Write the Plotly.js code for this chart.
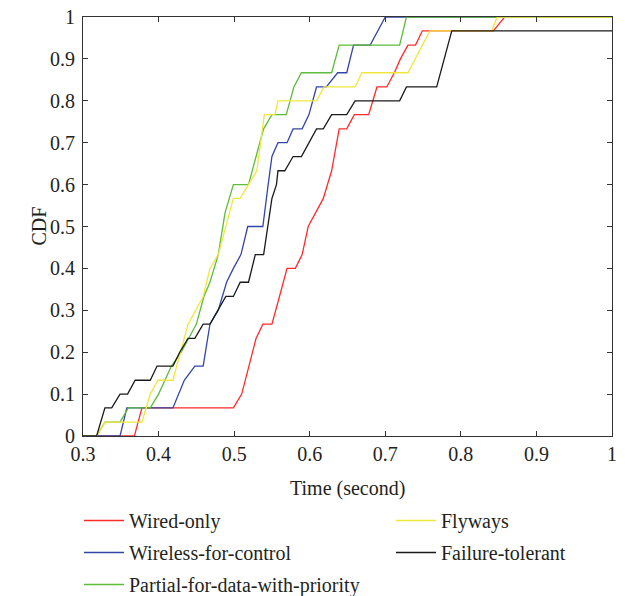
<!DOCTYPE html>
<html>
<head>
<meta charset="utf-8">
<script src="https://cdn.plot.ly/plotly-3.0.1.min.js"></script>
<style>html,body{margin:0;padding:0;background:#fff;}#chart{width:625px;height:596px;}</style>
</head>
<body>
<div id="chart"></div>
<script>
// Wired-only
const wiredX = [0.3, 0.368, 0.378, 0.499, 0.510, 0.520, 0.529, 0.538, 0.550, 0.560, 0.570, 0.581, 0.590, 0.598, 0.608, 0.618, 0.629, 0.639, 0.649, 0.659, 0.678, 0.689, 0.702, 0.712, 0.720, 0.730, 0.740, 0.749, 0.843, 0.858, 1.0];
const wiredY = [0, 0, 0.067, 0.067, 0.1, 0.167, 0.233, 0.267, 0.267, 0.333, 0.4, 0.4, 0.433, 0.5, 0.533, 0.567, 0.633, 0.733, 0.733, 0.767, 0.767, 0.833, 0.833, 0.867, 0.9, 0.933, 0.933, 0.967, 0.967, 1, 1];
// Wireless-for-control
const wirelessX = [0.3, 0.349, 0.358, 0.419, 0.434, 0.448, 0.459, 0.468, 0.479, 0.490, 0.499, 0.509, 0.518, 0.538, 0.545, 0.550, 0.558, 0.570, 0.578, 0.590, 0.599, 0.609, 0.622, 0.637, 0.649, 0.658, 0.680, 0.700, 1.0];
const wirelessY = [0, 0, 0.067, 0.067, 0.133, 0.167, 0.167, 0.267, 0.3, 0.367, 0.4, 0.433, 0.5, 0.5, 0.6, 0.667, 0.7, 0.7, 0.733, 0.733, 0.767, 0.833, 0.833, 0.867, 0.867, 0.933, 0.933, 1, 1];
// Partial-for-data-with-priority
const partialX = [0.3, 0.318, 0.329, 0.349, 0.360, 0.389, 0.400, 0.408, 0.417, 0.430, 0.450, 0.460, 0.468, 0.479, 0.488, 0.499, 0.519, 0.529, 0.539, 0.550, 0.569, 0.579, 0.589, 0.629, 0.639, 0.719, 0.728, 1.0];
const partialY = [0, 0, 0.033, 0.033, 0.067, 0.067, 0.1, 0.133, 0.167, 0.2, 0.267, 0.333, 0.367, 0.433, 0.533, 0.6, 0.6, 0.667, 0.733, 0.767, 0.767, 0.833, 0.867, 0.867, 0.933, 0.933, 1, 1];
// Flyways
const flywaysX = [0.3, 0.318, 0.329, 0.378, 0.389, 0.399, 0.419, 0.429, 0.439, 0.459, 0.468, 0.479, 0.499, 0.508, 0.519, 0.530, 0.540, 0.554, 0.558, 0.609, 0.619, 0.660, 0.669, 0.730, 0.759, 0.841, 0.848, 1.0];
const flywaysY = [0, 0, 0.033, 0.033, 0.1, 0.133, 0.133, 0.2, 0.267, 0.333, 0.4, 0.433, 0.567, 0.567, 0.6, 0.633, 0.767, 0.767, 0.8, 0.8, 0.833, 0.833, 0.867, 0.867, 0.967, 0.967, 1, 1];
// Failure-tolerant
const failureX = [0.3, 0.318, 0.329, 0.338, 0.349, 0.359, 0.369, 0.389, 0.398, 0.419, 0.428, 0.439, 0.448, 0.459, 0.468, 0.479, 0.489, 0.499, 0.508, 0.519, 0.528, 0.539, 0.545, 0.550, 0.556, 0.558, 0.567, 0.578, 0.589, 0.599, 0.609, 0.618, 0.629, 0.649, 0.660, 0.719, 0.728, 0.768, 0.788, 1.0];
const failureY = [0, 0, 0.067, 0.067, 0.1, 0.1, 0.133, 0.133, 0.167, 0.167, 0.2, 0.233, 0.233, 0.267, 0.267, 0.3, 0.333, 0.333, 0.367, 0.367, 0.433, 0.433, 0.5, 0.567, 0.6, 0.633, 0.633, 0.667, 0.667, 0.7, 0.733, 0.733, 0.767, 0.767, 0.8, 0.8, 0.833, 0.833, 0.967, 0.967];

const xTicks = [0.3, 0.4, 0.5, 0.6, 0.7, 0.8, 0.9, 1];
const xTickText = ['0.3', '0.4', '0.5', '0.6', '0.7', '0.8', '0.9', '1'];
const yTicks = [0, 0.1, 0.2, 0.3, 0.4, 0.5, 0.6, 0.7, 0.8, 0.9, 1];
const yTickText = ['0', '0.1', '0.2', '0.3', '0.4', '0.5', '0.6', '0.7', '0.8', '0.9', '1'];
const xTitle = 'Time (second)';
const yTitle = 'CDF';

const FONT = 'Liberation Serif, Times New Roman, serif';
const TXT = '#231f20';
function tr(name, x, y, color, leg, rank) {
  return {type: 'scatter', mode: 'lines', name: name, x: x, y: y,
    line: {color: color, width: 1.3}, legend: leg, legendrank: rank,
    legendgroup: name, hoverinfo: 'skip'};
}
const data = [
  tr('Wired-only', wiredX, wiredY, '#ff2b2b', 'legend', 1),
  tr('Wireless-for-control', wirelessX, wirelessY, '#3346a8', 'legend', 2),
  tr('Partial-for-data-with-priority', partialX, partialY, '#5fbb3a', 'legend', 3),
  tr('Flyways', flywaysX, flywaysY, '#f0e73a', 'legend2', 1),
  tr('Failure-tolerant', failureX, failureY, '#1a1a1a', 'legend2', 2)
];
const axisCommon = {
  showgrid: false, zeroline: false, showline: true, linecolor: '#333', linewidth: 1,
  mirror: 'ticks', ticks: 'inside', ticklen: 5, tickcolor: '#333', tickwidth: 1,
  tickfont: {family: FONT, size: 20, color: TXT}
};
const legCommon = {
  orientation: 'v', xref: 'container', yref: 'container', xanchor: 'left', yanchor: 'top',
  tracegroupgap: 3, font: {family: FONT, size: 20, color: TXT}, bgcolor: 'rgba(0,0,0,0)',
  borderwidth: 0, itemwidth: 40
};
const layout = {
  width: 625, height: 596,
  margin: {l: 83, r: 13, t: 17, b: 160, autoexpand: false},
  paper_bgcolor: '#fff', plot_bgcolor: '#fff',
  font: {family: FONT, size: 20, color: TXT},
  xaxis: Object.assign({}, axisCommon, {range: [0.3, 1], tickvals: xTicks, ticktext: xTickText}),
  yaxis: Object.assign({}, axisCommon, {range: [0, 1], tickvals: yTicks, ticktext: yTickText,
    ticklabelstandoff: 3}),
  annotations: [
    {text: xTitle, xref: 'paper', yref: 'paper', x: 0.5, y: 0, xanchor: 'center', yanchor: 'middle',
     yshift: -52, showarrow: false, font: {family: FONT, size: 20, color: TXT}},
    {text: yTitle, xref: 'paper', yref: 'paper', x: 0, y: 0.5, xanchor: 'center', yanchor: 'middle',
     xshift: -45, textangle: -90, showarrow: false, font: {family: FONT, size: 20, color: TXT}}
  ],
  showlegend: true,
  legend: Object.assign({}, legCommon, {x: 79 / 625, y: 1 - 501 / 596}),
  legend2: Object.assign({}, legCommon, {x: 391 / 625, y: 1 - 501 / 596})
};
Plotly.newPlot('chart', data, layout, {displayModeBar: false, staticPlot: true});
</script>
</body>
</html>
